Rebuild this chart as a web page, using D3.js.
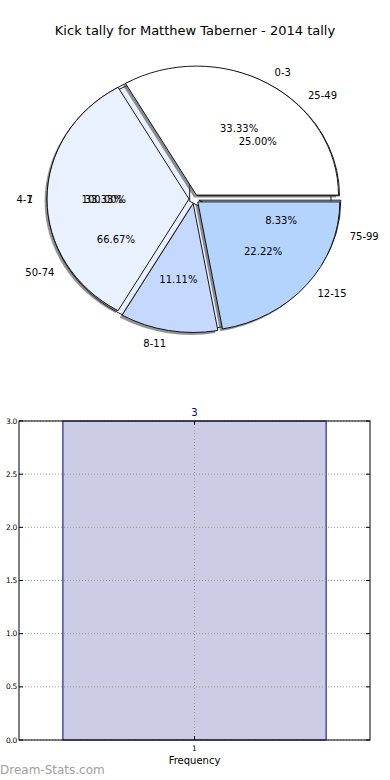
<!DOCTYPE html>
<html>
<head>
<meta charset="utf-8">
<script src="https://cdnjs.cloudflare.com/ajax/libs/d3/7.8.5/d3.min.js"></script>
<style>
  body { margin: 0; background: #fff; }
  svg { font-family: "DejaVu Sans", sans-serif; }
</style>
</head>
<body>
<svg width="390" height="780"></svg>
<script>
// three pies drawn on top of each other, like the original
var kickLabels = ["0-3", "4-7", "8-11", "12-15"];
var kickValues = [3, 3, 1, 2];
var distLabels = ["25-49", "50-74", "75-99"];
var distValues = [3, 8, 1];
var gameLabels = ["1"];
var gameValues = [3];
var pieColors = ["#ffffff", "#e9f0fe", "#c5d8fd", "#b4d4fe"];

var barLabels = ["1"];
var barValues = [3];
var yTicks = [0, 0.5, 1, 1.5, 2, 2.5, 3];

var svg = d3.select("svg"),
    width = +svg.attr("width");

var cx = 194, cy = 199, rx = 142, ry = 129;
var explode = 0.035;
var pctFmt = d3.format(".2f");

svg.append("text")
    .attr("x", width / 2)
    .attr("y", 30)
    .attr("text-anchor", "middle")
    .attr("dominant-baseline", "central")
    .style("font-size", "13px")
    .text("Kick tally for Matthew Taberner - 2014 tally");

// matplotlib style: start at 3 o'clock, go counterclockwise
var pie = d3.pie().sort(null).startAngle(Math.PI / 2).endAngle(Math.PI / 2 - 2 * Math.PI);
var arc = d3.arc().innerRadius(0).outerRadius(1);

var wedges = svg.append("g");
var texts = svg.append("g");

function drawPie(labels, values, ex, shadow) {
  var arcs = pie(values);
  arcs.forEach(function(d, i) {
    var m = (d.startAngle + d.endAngle) / 2;
    var s = Math.sin(m), c = -Math.cos(m);
    var ox = cx + s * rx * ex, oy = cy + c * ry * ex;

    if (shadow) {
      wedges.append("path")
          .attr("d", arc(d))
          .attr("transform", "translate(" + (ox - 2.4) + "," + (oy + 2.4) + ") scale(" + rx + "," + ry + ")")
          .attr("fill", "#3a3a3a")
          .attr("opacity", 0.55);
    }
    wedges.append("path")
        .attr("d", arc(d))
        .attr("transform", "translate(" + ox + "," + oy + ") scale(" + rx + "," + ry + ")")
        .attr("fill", pieColors[i % pieColors.length])
        .attr("stroke", "#000")
        .attr("stroke-width", 0.9)
        .attr("vector-effect", "non-scaling-stroke");

    texts.append("text")
        .attr("x", ox + s * rx * 1.1)
        .attr("y", oy + c * ry * 1.1)
        .attr("text-anchor", s >= 0 ? "start" : "end")
        .attr("dominant-baseline", "central")
        .style("font-size", "10px")
        .text(labels[i]);

    texts.append("text")
        .attr("x", ox + s * rx * 0.6)
        .attr("y", oy + c * ry * 0.6)
        .attr("text-anchor", "middle")
        .attr("dominant-baseline", "central")
        .style("font-size", "10px")
        .text(pctFmt(100 * d.value / d3.sum(values)) + "%");
  });
}

drawPie(gameLabels, gameValues, explode, false);
drawPie(distLabels, distValues, explode, false);
drawPie(kickLabels, kickValues, explode, true);

// bar chart
var plotLeft = 19, plotRight = 370, plotTop = 421, plotBottom = 740;
var x = d3.scaleLinear().domain([0.5, 1.5]).range([plotLeft, plotRight]);
var y = d3.scaleLinear().domain([0, 3]).range([plotBottom, plotTop]);

var g = svg.append("g");

g.selectAll("rect.bar")
    .data(barValues)
  .enter().append("rect")
    .attr("class", "bar")
    .attr("x", function(d, i) { return x(+barLabels[i] - 0.375); })
    .attr("width", x(0.75) - x(0))
    .attr("y", function(d) { return y(d); })
    .attr("height", function(d) { return y(0) - y(d); })
    .attr("fill", "#ccccE4")
    .attr("stroke", "#000080")
    .attr("stroke-width", 1);

g.selectAll("line.hgrid")
    .data(yTicks)
  .enter().append("line")
    .attr("x1", plotLeft).attr("x2", plotRight)
    .attr("y1", function(d) { return y(d); })
    .attr("y2", function(d) { return y(d); })
    .attr("stroke", "#999")
    .attr("stroke-dasharray", "1,2");

g.selectAll("line.vgrid")
    .data(barLabels)
  .enter().append("line")
    .attr("x1", function(d) { return x(+d); })
    .attr("x2", function(d) { return x(+d); })
    .attr("y1", plotTop).attr("y2", plotBottom)
    .attr("stroke", "#999")
    .attr("stroke-dasharray", "1,2");

g.append("rect")
    .attr("x", plotLeft).attr("y", plotTop)
    .attr("width", plotRight - plotLeft).attr("height", plotBottom - plotTop)
    .attr("fill", "none")
    .attr("stroke", "#000")
    .attr("stroke-width", 1);

// inward ticks on both sides
yTicks.forEach(function(t) {
  g.append("line").attr("x1", plotLeft).attr("x2", plotLeft + 4).attr("y1", y(t)).attr("y2", y(t)).attr("stroke", "#000");
  g.append("line").attr("x1", plotRight - 4).attr("x2", plotRight).attr("y1", y(t)).attr("y2", y(t)).attr("stroke", "#000");
  g.append("text")
      .attr("x", plotLeft - 2)
      .attr("y", y(t))
      .attr("text-anchor", "end")
      .attr("dominant-baseline", "central")
      .style("font-size", "7.5px")
      .style("letter-spacing", "-0.3px")
      .text(d3.format(".1f")(t));
});

barLabels.forEach(function(l, i) {
  g.append("line").attr("x1", x(+l)).attr("x2", x(+l)).attr("y1", plotBottom).attr("y2", plotBottom - 4).attr("stroke", "#000");
  g.append("line").attr("x1", x(+l)).attr("x2", x(+l)).attr("y1", plotTop).attr("y2", plotTop + 4).attr("stroke", "#000");
  g.append("text")
      .attr("x", x(+l))
      .attr("y", plotBottom + 8)
      .attr("text-anchor", "middle")
      .attr("dominant-baseline", "central")
      .style("font-size", "7.5px")
      .text(l);
  g.append("text")
      .attr("x", x(+l))
      .attr("y", y(barValues[i]) - 9)
      .attr("text-anchor", "middle")
      .attr("dominant-baseline", "central")
      .attr("fill", "#000080")
      .style("font-size", "10px")
      .text(barValues[i]);
});

g.append("text")
    .attr("x", x(1))
    .attr("y", 760)
    .attr("text-anchor", "middle")
    .attr("dominant-baseline", "central")
    .style("font-size", "10px")
    .text("Frequency");

svg.append("text")
    .attr("x", 0)
    .attr("y", 770)
    .attr("dominant-baseline", "central")
    .attr("fill", "#a0a0a0")
    .style("font-size", "12px")
    .text("Dream-Stats.com");
</script>
</body>
</html>
